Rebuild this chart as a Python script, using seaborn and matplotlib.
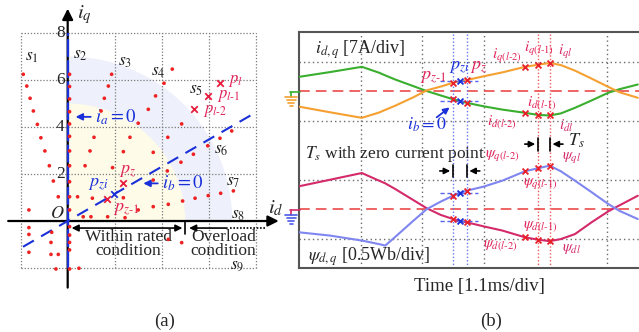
import numpy as np
import pandas as pd
import matplotlib
matplotlib.use('Agg')
import matplotlib.pyplot as plt
from matplotlib.patches import Wedge
import seaborn as sns

sns.set_style('white')
plt.rcParams['font.family'] = ['Liberation Serif', 'DejaVu Serif']
plt.rcParams['mathtext.fontset'] = 'stix'

# ---------------- data: panel (a) ----------------
dot_id = [-1.89, -1.74, -1.60, -1.46, -1.29, -1.14, -0.97, -0.78, -0.61, -0.40,
          -1.65, -1.65, -1.65, -1.65, -0.68, -0.71, -0.71, -0.40, -0.50,
          0.08, 0.08, 0.08, 0.08, 0.08, 0.08, 0.08, 0.08, 0.08, 0.08, 0.08, 0.08, 0.08, 0.08, 0.08, 0.08,
          1.87, 1.73, 1.56, 1.42, 1.12, 0.95, 0.74, 0.42,
          4.45, 4.10, 3.74, 3.43, 3.00, 2.65, 2.37, 1.91,
          4.85, 4.26, 3.64, 4.82, 5.35, 5.96, 6.48, 6.98, 4.24, 3.64,
          5.42, 5.98, 6.51, 7.05, 4.89, 4.28, 3.64, 3.00, 2.37, 1.05,
          0.66, 0.99, 1.70, 2.44, 4.85, 4.28, 0.48]
dot_iq = [6.24, 5.74, 5.22, 4.68, 4.11, 3.54, 2.98, 2.35, 1.70, 1.03,
          0.47, -0.28, -0.57, -1.33, -0.48, -0.91, -1.42, -1.42, -2.04,
          6.24, 5.72, 5.19, 4.65, 4.13, 3.60, 2.98, 2.35, 1.67, 1.03, 0.47, -0.24, -0.60, -0.91, -1.23, -2.04,
          6.24, 5.74, 5.22, 4.68, 3.56, 2.98, 2.35, 1.03,
          6.46, 5.86, 5.32, 4.75, 4.16, 3.56, 2.95, 2.27,
          4.13, 3.56, 2.92, 2.50, 2.84, 3.20, 3.52, 3.83, 2.13, 1.74,
          0.97, 1.08, 1.18, 1.28, 0.85, 0.71, 0.61, 0.47, 0.99, 0.97,
          0.18, 0.18, 0.18, 0.14, -0.92, -0.78, -2.01]
cross_red_id = [6.48, 5.96, 5.39, 2.37, 1.66]
cross_red_iq = [5.89, 5.32, 4.75, 1.63, 0.94]
cross_blue_id = [1.96]
cross_blue_iq = [1.14]
grid_vals = [-2, 0, 2, 4, 6, 8]
tick_vals = [2, 4, 6, 8]
rated_radius = 5
overload_radius = 7
ib0_slope = 0.577
ib0_range = [-1.9, 7.8]
sector_names = ['$s_1$', '$s_2$', '$s_3$', '$s_4$', '$s_5$', '$s_6$', '$s_7$', '$s_8$', '$s_9$']
sector_id = [-1.53, 0.52, 2.44, 3.86, 5.45, 6.55, 7.05, 7.26, 7.19]
sector_iq = [6.99, 7.06, 6.78, 6.35, 5.57, 3.02, 1.67, 0.26, -1.92]

# ---------------- data: panel (b) ----------------
t_div = [0, 0.5, 1.02, 1.3, 1.4, 1.56, 1.85, 2.07, 2.3, 2.5, 2.61, 2.72, 3.0, 3.3,
         3.67, 3.88, 4.07, 4.25, 4.48, 4.75, 5.02, 5.2, 5.5]
i_d = [0.48, 0.64, 0.82, 0.62, 0.53, 0.39, 0.17, 0.00, -0.15, -0.28, -0.34, -0.40, -0.52, -0.63,
       -0.74, -0.81, -0.83, -0.76, -0.57, -0.32, -0.06, 0.06, 0.22]
i_q = [-0.53, -0.72, -0.91, -0.73, -0.64, -0.50, -0.22, 0.02, 0.15, 0.28, 0.33, 0.37, 0.50, 0.63,
       0.82, 0.89, 0.95, 0.88, 0.69, 0.42, 0.14, -0.04, -0.23]
psi_d = [0.77, 0.99, 1.22, 0.96, 0.87, 0.68, 0.31, 0.03, -0.20, -0.34, -0.40, -0.45, -0.59, -0.73,
         -0.96, -1.04, -1.09, -1.02, -0.85, -0.45, -0.08, 0.12, 0.45]
psi_q = [-0.79, -0.90, -1.07, -1.19, -1.24, -0.95, -0.41, -0.01, 0.25, 0.45, 0.54, 0.62, 0.76, 0.96,
         1.28, 1.38, 1.47, 1.28, 0.96, 0.57, 0.17, -0.06, -0.34]
t_red_samples = [2.5, 2.72, 3.67, 3.88, 4.07]
t_zero_sample = 2.61
grid_t = [1, 2, 3, 5]

RED = '#e8202a'
LBL = '#e0245a'
BLUE = '#1a30d8'
GREEN = '#3aae2e'
ORANGE = '#f5a031'
MAG = '#d42a6a'
LBLUE = '#7f86f0'

fig = plt.figure(figsize=(6.39, 3.32), dpi=100)

# ================= panel (a) =================
ax = fig.add_axes([0, 32 / 332, 290 / 639, 300 / 332])
ax.set_xlim(-2.88, 9.46)
ax.set_ylim(-3.36, 9.40)
ax.axis('off')

ax.add_patch(Wedge((0, 0), overload_radius, 0, 90, color='#eef0fb', lw=0, zorder=0))
ax.add_patch(Wedge((0, 0), rated_radius, 0, 90, color='#fefbe9', lw=0, zorder=0.5))
for v in grid_vals:
    ax.plot([v, v], [grid_vals[0], grid_vals[-1]], ls=(0, (1, 1.5)), color='#7a7a7a', lw=0.9, zorder=1)
    ax.plot([grid_vals[0], grid_vals[-1]], [v, v], ls=(0, (1, 1.5)), color='#7a7a7a', lw=0.9, zorder=1)

ax.annotate('', xy=(9.1, 0), xytext=(-2.65, 0),
            arrowprops=dict(arrowstyle='-|>', lw=1.6, color='k', mutation_scale=16), zorder=3)
ax.annotate('', xy=(0, 9.15), xytext=(0, -2.95),
            arrowprops=dict(arrowstyle='-|>', lw=1.6, color='k', mutation_scale=16), zorder=3)
ax.plot([0, 0], [grid_vals[0], grid_vals[-1]], color=BLUE, lw=1.6, ls=(0, (8, 1.5)), zorder=4)
xs = np.array(ib0_range)
ax.plot(xs, ib0_slope * xs, color=BLUE, lw=1.5, ls=(0, (6, 4)), zorder=4)

sns.scatterplot(x=dot_id, y=dot_iq, ax=ax, color='#ee2222', s=7, edgecolor='none', zorder=5, legend=False)
sns.scatterplot(x=cross_red_id, y=cross_red_iq, ax=ax, color='#e81c3c', marker='x', s=22,
                linewidth=1.3, zorder=6, legend=False)
sns.scatterplot(x=cross_blue_id, y=cross_blue_iq, ax=ax, color=BLUE, marker='x', s=22,
                linewidth=1.3, zorder=6, legend=False)

for v in tick_vals:
    ax.text(-0.12, v, str(v), ha='right', va='center', fontsize=12.5)
ax.text(-0.15, 0.3, '$O$', ha='right', va='center', fontsize=13)
ax.text(0.4, 8.8, '$i_q$', ha='left', va='center', fontsize=15)
ax.text(8.85, 0.55, '$i_d$', ha='center', va='center', fontsize=15)
for name, sx, sy in zip(sector_names, sector_id, sector_iq):
    ax.text(sx, sy, name, ha='center', va='center', fontsize=12.5, color='#222222')

ax.annotate('', xy=(0.22, 4.43), xytext=(1.1, 4.43),
            arrowprops=dict(arrowstyle='-|>', lw=1.3, color=BLUE, mutation_scale=10))
ax.text(1.15, 4.43, '$i_a=0$', color=BLUE, fontsize=13.5, ha='left', va='center')
ax.annotate('', xy=(3.1, 1.6), xytext=(3.95, 1.6),
            arrowprops=dict(arrowstyle='-|>', lw=1.3, color=BLUE, mutation_scale=10))
ax.text(4.0, 1.6, '$i_b=0$', color=BLUE, fontsize=13.5, ha='left', va='center')

ax.text(6.83, 5.97, '$p_l$', color=LBL, fontsize=12, ha='left', va='center')
ax.text(6.34, 5.30, '$p_{l\\text{-}1}$', color=LBL, fontsize=12, ha='left', va='center')
ax.text(5.77, 4.66, '$p_{l\\text{-}2}$', color=LBL, fontsize=12, ha='left', va='center')
ax.text(2.2, 2.1, '$p_z$', color=LBL, fontsize=13, ha='left', va='center')
ax.text(0.85, 1.55, '$p_{zi}$', color=BLUE, fontsize=13, ha='left', va='center')
ax.text(1.94, 0.5, '$p_{z\\text{-}1}$', color=LBL, fontsize=13, ha='left', va='center')

ax.annotate('', xy=(0.05, -0.3), xytext=(5.0, -0.3),
            arrowprops=dict(arrowstyle='<|-|>', lw=1.2, color='k', mutation_scale=10))
ax.plot([5.0, 5.0], [0.0, -0.55], color='k', lw=1.2)
ax.annotate('', xy=(5.05, -0.3), xytext=(6.9, -0.3),
            arrowprops=dict(arrowstyle='-|>', lw=1.2, color='k', mutation_scale=10))
ax.plot([6.9, 8.45], [-0.3, -0.3], color='k', lw=1.2, ls=(0, (1, 1)))
ax.text(2.57, -0.98, 'Within rated\ncondition', ha='center', va='center', fontsize=12.5, linespacing=0.8)
ax.text(6.62, -0.98, 'Overload\ncondition', ha='center', va='center', fontsize=12.5, linespacing=0.8)

# ================= panel (b) =================
bx = fig.add_axes([299 / 639, 64 / 332, 340 / 639, 236 / 332])
bx.set_xlim(0, 340 / 61.6)
bx.set_ylim(-4, 4)
bx.set_xticks([])
bx.set_yticks([])
for s in ['left', 'top', 'bottom']:
    bx.spines[s].set_color('#555555')
    bx.spines[s].set_linewidth(1.5)
bx.spines['right'].set_visible(False)

for y in [3, 1, -1, -3]:
    bx.axhline(y, color='#6a6a6a', lw=1.0, ls=(0, (1, 2.2)), zorder=1)
for x in grid_t:
    bx.axvline(x, color='#6a6a6a', lw=1.0, ls=(0, (1, 2.2)), zorder=1)
for y in [2, -2]:
    bx.axhline(y, color='#ea3a3a', lw=1.1, ls=(0, (7, 4)), zorder=2)
for x in t_red_samples[:2]:
    bx.axvline(x, color='#6677f0', lw=1.0, ls=(0, (1, 1.5)), zorder=2)
for x in t_red_samples[3:]:
    bx.axvline(x, color='#f05a5a', lw=1.0, ls=(0, (1, 1.5)), zorder=2)

df = pd.DataFrame({'t': t_div, 'id': i_d, 'iq': i_q, 'pd': psi_d, 'pq': psi_q})
sns.lineplot(x=df['t'], y=df['id'] + 2, ax=bx, color=GREEN, lw=1.5, zorder=3)
sns.lineplot(x=df['t'], y=df['iq'] + 2, ax=bx, color=ORANGE, lw=1.5, zorder=3)
sns.lineplot(x=df['t'], y=df['pd'] - 2, ax=bx, color=MAG, lw=1.5, zorder=3)
sns.lineplot(x=df['t'], y=df['pq'] - 2, ax=bx, color=LBLUE, lw=1.5, zorder=3)

# zero-current helper lines
dz = df[df['t'] == t_zero_sample].iloc[0]
for val in [dz['iq'] + 2, dz['id'] + 2, dz['pq'] - 2, dz['pd'] - 2]:
    bx.plot([2.29, 2.9], [val, val], color='#5566ee', lw=1.0, ls=(0, (3, 2)), zorder=3)

sel = df[df['t'].isin(t_red_samples)]
for col, off in [('id', 2), ('iq', 2), ('pd', -2), ('pq', -2)]:
    sns.scatterplot(x=sel['t'], y=sel[col] + off, ax=bx, color=RED, marker='x', s=18,
                    linewidth=1.3, zorder=5, legend=False)
    sns.scatterplot(x=[dz['t']], y=[dz[col] + off], ax=bx, color=BLUE, marker='x', s=18,
                    linewidth=1.3, zorder=5, legend=False)
bx.set_xlabel('')
bx.set_ylabel('')

bx.text(0.26, 3.39, '$i_{d,q}$ [7A/div]', fontsize=13, ha='left', va='center')
bx.text(0.15, -3.63, '$\\psi_{d,q}$ [0.5Wb/div]', fontsize=13, ha='left', va='center')
bx.text(0.10, -0.12, '$T_s$ with zero current point', fontsize=12.5, ha='left', va='center')

bx.text(2.40, 2.47, '$p_{z\\text{-}1}$', color=LBL, fontsize=13, ha='right', va='center')
bx.text(2.44, 2.8, '$p_{zi}$', color=BLUE, fontsize=13, ha='left', va='center')
bx.text(2.78, 2.8, '$p_z$', color=LBL, fontsize=13, ha='left', va='center')
bx.annotate('', xy=(2.48, 1.5), xytext=(2.2, 1.05),
            arrowprops=dict(arrowstyle='-|>', lw=1.3, color=BLUE, mutation_scale=9))
bx.text(1.75, 0.85, '$i_b=0$', color=BLUE, fontsize=13, ha='left', va='center')

LS = 11
bx.text(3.13, 3.2, '$i_{q(l\\text{-}2)}$', color=LBL, fontsize=LS, ha='left', va='center')
bx.text(3.66, 3.42, '$i_{q(l\\text{-}1)}$', color=LBL, fontsize=LS, ha='left', va='center')
bx.text(4.20, 3.32, '$i_{ql}$', color=MAG, fontsize=LS, ha='left', va='center')
bx.text(3.70, 1.6, '$i_{d(l\\text{-}1)}$', color=LBL, fontsize=LS, ha='left', va='center')
bx.text(3.06, 0.95, '$i_{d(l\\text{-}2)}$', color=LBL, fontsize=LS, ha='left', va='center')
bx.text(4.22, 0.8, '$i_{dl}$', color=MAG, fontsize=LS, ha='left', va='center')
bx.text(3.02, -0.17, '$\\psi_{q(l\\text{-}2)}$', color=LBL, fontsize=LS, ha='left', va='center')
bx.text(3.64, -1.12, '$\\psi_{q(l\\text{-}1)}$', color=LBL, fontsize=LS, ha='left', va='center')
bx.text(4.27, -0.27, '$\\psi_{ql}$', color=MAG, fontsize=LS, ha='left', va='center')
bx.text(3.64, -2.6, '$\\psi_{d(l\\text{-}1)}$', color=LBL, fontsize=LS, ha='left', va='center')
bx.text(2.99, -3.25, '$\\psi_{d(l\\text{-}2)}$', color=LBL, fontsize=LS, ha='left', va='center')
bx.text(4.27, -3.36, '$\\psi_{dl}$', color=MAG, fontsize=LS, ha='left', va='center')

# Ts arrows
bx.annotate('', xy=(3.88, 0.2), xytext=(3.62, 0.2),
            arrowprops=dict(arrowstyle='-|>', lw=1.2, color='k', mutation_scale=9))
bx.annotate('', xy=(4.07, 0.2), xytext=(4.33, 0.2),
            arrowprops=dict(arrowstyle='-|>', lw=1.2, color='k', mutation_scale=9))
for x in [3.88, 4.07]:
    bx.plot([x, x], [0.42, -0.02], color='k', lw=1.2)
bx.text(4.37, 0.3, '$T_s$', fontsize=13, ha='left', va='center')
bx.annotate('', xy=(2.5, -0.71), xytext=(2.24, -0.71),
            arrowprops=dict(arrowstyle='-|>', lw=1.2, color='k', mutation_scale=9))
bx.annotate('', xy=(2.72, -0.71), xytext=(2.98, -0.71),
            arrowprops=dict(arrowstyle='-|>', lw=1.2, color='k', mutation_scale=9))
for x in [2.5, 2.72]:
    bx.plot([x, x], [-0.5, -0.93], color='k', lw=1.2)

# ================= overlay (figure pixel coords) =================
ov = fig.add_axes([0, 0, 1, 1])
ov.set_xlim(0, 639)
ov.set_ylim(332, 0)
ov.axis('off')
# ground symbols
ov.plot([290, 300], [91.5, 91.5], color=GREEN, lw=1.2)
ov.plot([291, 291], [91.5, 97], color=GREEN, lw=1.2)
for y, w in [(97, 6), (100, 4.5), (103, 3), (106, 1.5)]:
    ov.plot([291 - w, 291 + w], [y, y], color=ORANGE, lw=1.2)
ov.plot([290, 300], [209.5, 209.5], color=MAG, lw=1.2)
ov.plot([291, 291], [209.5, 215], color=MAG, lw=1.2)
for y, w in [(215, 6), (218, 4.5), (221, 3), (224, 1.5)]:
    ov.plot([291 - w, 291 + w], [y, y], color='#4a5ae8', lw=1.2)

ov.text(479, 286, 'Time [1.1ms/div]', fontsize=13.5, ha='center', va='center')
ov.text(165, 321, '(a)', fontsize=13.5, ha='center', va='center')
ov.text(491, 321, '(b)', fontsize=13.5, ha='center', va='center')

fig.savefig('out.png', dpi=100)
